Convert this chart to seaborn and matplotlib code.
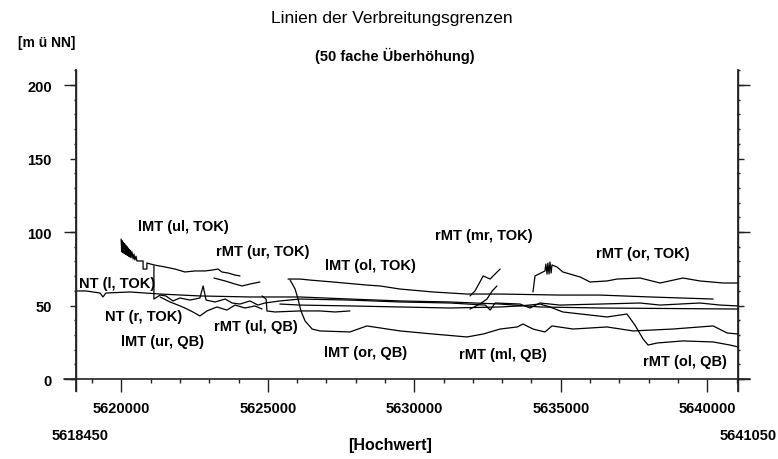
import matplotlib
matplotlib.use("Agg")
import matplotlib.pyplot as plt
from matplotlib.ticker import MultipleLocator
import seaborn as sns
import pandas as pd

# Hochwert [m] und Hoehe [m ue NN] der Grenzlinien
lmt_ul_tok_x = [5619990, 5620010, 5620030, 5620050, 5620070, 5620090, 5620110, 5620130, 5620150,
                5620170, 5620190, 5620210, 5620230, 5620250, 5620270, 5620290, 5620310, 5620330,
                5620360, 5620400, 5620430, 5620460, 5620500, 5620530, 5620570,
                5620740, 5620740, 5620870, 5620870, 5621110, 5621490, 5621830, 5622170, 5622510,
                5622850, 5623090, 5623300, 5623430, 5623640, 5623880, 5624050]
lmt_ul_tok_y = [95.2, 86.5, 94.0, 86.0, 93.0, 85.5, 92.0, 85.0, 91.0,
                84.5, 90.0, 84.0, 89.0, 83.5, 88.0, 83.0, 87.5, 82.5,
                86.5, 81.6, 85.0, 81.0, 83.5, 80.3, 80.3,
                80.3, 74.8, 74.8, 78.9, 77.6, 76.2, 74.8, 72.8, 73.5,
                73.5, 74.1, 74.8, 72.8, 72.1, 70.7, 70.1]

rmt_ur_tok_x = [5623160, 5623540, 5623880, 5624120, 5624390, 5624730]
rmt_ur_tok_y = [68.7, 66.7, 64.6, 63.3, 64.6, 66.0]

lmt_ol_tok_x = [5625690, 5626100, 5626440, 5627220, 5628380, 5628830, 5629510, 5630640, 5631800,
                5632930, 5634970, 5636340, 5638050, 5640200]
lmt_ol_tok_y = [68.0, 68.0, 67.3, 66.0, 63.9, 63.3, 61.2, 59.2, 57.8,
                57.8, 57.1, 57.1, 55.8, 54.4]

rmt_mr_tok_x = [5631900, 5632070, 5632240, 5632350, 5632590, 5632690, 5632930]
rmt_mr_tok_y = [56.5, 59.9, 66.0, 70.1, 68.0, 70.1, 74.8]

rmt_mr_b_x = [5631900, 5632240, 5632480, 5632660, 5632820]
rmt_mr_b_y = [47.6, 51.0, 54.4, 59.9, 63.3]

rmt_or_tok_x = [5634050, 5634120, 5634460, 5634490, 5634530, 5634560, 5634600, 5634630, 5634670,
                5634700, 5634870, 5635070, 5635660, 5636000, 5636580, 5636920, 5637710, 5638390,
                5639170, 5639750, 5640540, 5641050]
rmt_or_tok_y = [59.2, 70.1, 73.5, 78.2, 71.4, 78.9, 71.4, 79.6, 72.1,
                77.6, 76.2, 72.8, 69.4, 66.0, 66.7, 68.0, 68.7, 65.3,
                68.7, 66.7, 65.3, 65.3]

nt_l_tok_x = [5618450, 5618790, 5619270, 5619370, 5619470, 5620290, 5621320, 5622680, 5624390,
              5626100, 5627800, 5629510, 5631220, 5632930, 5634290, 5636340, 5641050]
nt_l_tok_y = [59.9, 59.9, 58.5, 55.8, 58.5, 59.2, 57.8, 56.5, 55.8,
              55.8, 54.4, 53.1, 52.4, 51.0, 49.0, 48.3, 47.6]

nt_r_tok_x = [5621110, 5621110, 5621320, 5621520, 5621760, 5622000, 5622340, 5622680, 5622790,
              5622890, 5623200, 5623540, 5623780, 5624050, 5624390, 5624660, 5624900, 5625410,
              5626100, 5627800, 5629510, 5631220, 5632420, 5632590, 5632760, 5633610, 5633950,
              5634290, 5634970, 5636340, 5637710, 5638390, 5639070, 5639750, 5640440, 5641050]
nt_r_tok_y = [76.9, 54.4, 57.1, 56.5, 53.1, 55.1, 53.7, 55.1, 63.3,
              53.7, 52.4, 54.4, 51.7, 51.0, 53.1, 50.3, 51.7, 53.1,
              54.4, 53.7, 52.4, 51.7, 50.3, 46.9, 51.7, 51.0, 48.3,
              51.7, 50.3, 51.0, 51.7, 50.3, 51.0, 51.7, 50.3, 49.7]

lmt_ur_qb_x = [5621320, 5621660, 5621930, 5622170, 5622440, 5622680, 5622920, 5623260, 5623600,
               5623880, 5624220, 5624560, 5624800]
lmt_ur_qb_y = [55.8, 52.4, 50.3, 48.3, 45.6, 42.9, 46.3, 49.0, 46.9,
               50.3, 48.3, 49.7, 47.6]

rmt_ul_qb_x = [5624800, 5624940, 5624970, 5625240, 5626100, 5626780, 5627290, 5627800]
rmt_ul_qb_y = [56.5, 54.4, 46.3, 45.6, 46.3, 46.3, 45.6, 46.3]

lmt_or_qb_x = [5625760, 5625930, 5626030, 5626130, 5626270, 5626510, 5626780, 5627800, 5628380,
               5629510, 5630640, 5631800, 5632350, 5632930, 5633510, 5633710, 5634050, 5634460,
               5634700, 5635420, 5636580, 5637470, 5638830, 5640200, 5640680, 5641050]
lmt_or_qb_y = [67.3, 61.2, 54.4, 46.3, 39.5, 34.0, 32.7, 32.0, 36.1,
               32.7, 30.6, 28.6, 30.6, 34.0, 35.4, 37.4, 34.0, 32.0,
               36.1, 34.0, 35.4, 32.7, 34.0, 36.1, 31.3, 30.6]

rmt_ol_qb_x = [5625410, 5626100, 5627800, 5629510, 5631220, 5632930, 5633610, 5634290, 5634630,
               5635070, 5636000, 5636580, 5637020, 5637260, 5637530, 5637810, 5637980, 5638290,
               5639170, 5640200, 5640780, 5641050]
rmt_ol_qb_y = [51.0, 50.3, 49.7, 49.0, 48.3, 49.0, 49.7, 51.0, 49.0,
               45.6, 43.5, 42.2, 43.5, 44.2, 36.7, 27.2, 23.1, 24.5,
               25.9, 25.2, 23.1, 21.8]

# Beschriftungen der Linien
label_names = ["lMT (ul, TOK)", "rMT (ur, TOK)", "lMT (ol, TOK)", "rMT (mr, TOK)", "rMT (or, TOK)",
               "NT (l, TOK)", "NT (r, TOK)", "lMT (ur, QB)", "rMT (ul, QB)", "lMT (or, QB)",
               "rMT (ml, QB)", "rMT (ol, QB)"]
label_x = [5622100, 5624830, 5628490, 5632380, 5637810, 5619850, 5620770, 5621420, 5624600,
           5628320, 5633030, 5639240]
label_y = [104.1, 87.1, 77.6, 98.0, 85.7, 65.3, 42.9, 25.9, 36.1, 18.4, 17.0, 12.2]

y_major = [0, 50, 100, 150, 200]
y_long = [0, 100, 200]
x_major = [5620000, 5625000, 5630000, 5635000, 5640000]
x_min, x_max = 5618450, 5641050

lines = [
    (lmt_ul_tok_x, lmt_ul_tok_y), (rmt_ur_tok_x, rmt_ur_tok_y), (lmt_ol_tok_x, lmt_ol_tok_y),
    (rmt_mr_tok_x, rmt_mr_tok_y), (rmt_mr_b_x, rmt_mr_b_y), (rmt_or_tok_x, rmt_or_tok_y),
    (nt_l_tok_x, nt_l_tok_y), (nt_r_tok_x, nt_r_tok_y), (lmt_ur_qb_x, lmt_ur_qb_y),
    (rmt_ul_qb_x, rmt_ul_qb_y), (lmt_or_qb_x, lmt_or_qb_y), (rmt_ol_qb_x, rmt_ol_qb_y),
]

sns.set_theme(style="white")
plt.rcParams['font.family'] = ['Liberation Sans', 'DejaVu Sans']
plt.rcParams['text.color'] = 'black'
plt.rcParams['xtick.color'] = 'black'
plt.rcParams['ytick.color'] = 'black'

fig = plt.figure(figsize=(7.78, 4.6), dpi=100)
ax = fig.add_axes([76 / 778, 1 - 392 / 460, 662 / 778, 320.7 / 460])

for xs, ys in lines:
    df = pd.DataFrame({"Hochwert": xs, "Hoehe": ys})
    sns.lineplot(data=df, x="Hochwert", y="Hoehe", ax=ax, sort=False, estimator=None,
                 color="black", linewidth=0.9)

for name, lx, ly in zip(label_names, label_x, label_y):
    ax.text(lx, ly, name, ha="center", va="center", fontsize=10.5, fontweight="bold")

ax.set_xlim(x_min, x_max)
ax.set_ylim(-8.16, 210)
ax.set_xlabel("")
ax.set_ylabel("")

for s in ["top", "bottom"]:
    ax.spines[s].set_visible(False)
ax.spines["bottom"].set_position(("data", 0))
for s in ["left", "right"]:
    ax.spines[s].set_color("#222222")
    ax.spines[s].set_linewidth(1)
ax.axhline(0, xmin=-12 / 662, xmax=1 + 12 / 662, clip_on=False, color="#222222", linewidth=1.2)

ax.set_xticks(x_major)
ax.set_xticklabels([str(v) for v in x_major])
ax.xaxis.set_minor_locator(MultipleLocator(1000))
ax.tick_params(axis="x", which="major", direction="out", length=9.4, width=1, color="#222222",
               pad=6.5, labelsize=10.5, bottom=True)
ax.tick_params(axis="x", which="minor", direction="out", length=3, width=1, color="#222222", bottom=True)

ax.set_yticks(y_major)
ax.yaxis.set_minor_locator(MultipleLocator(10))
ax.tick_params(axis="y", which="major", direction="out", length=4.3, width=1, color="#222222",
               pad=13, labelsize=10.5, left=True, right=True)
ax.tick_params(axis="y", which="minor", direction="out", length=1.5, width=1, color="#222222",
               left=True, right=True)
for lab in ax.get_xticklabels() + ax.get_yticklabels():
    lab.set_fontweight("bold")

for side in ["left", "right"]:
    sec = ax.secondary_yaxis(side)
    sec.set_yticks(y_long)
    sec.tick_params(axis="y", direction="out", length=8.6, width=1, color="#222222",
                    labelleft=False, labelright=False)
    sec.spines[side].set_color("#222222")
    sec.yaxis.set_minor_locator(plt.NullLocator())

fig.text(392 / 778, 1 - 19 / 460, "Linien der Verbreitungsgrenzen", ha="center", va="center", fontsize=12.5)
fig.text(395 / 778, 1 - 56 / 460, "(50 fache Überhöhung)", ha="center", va="center", fontsize=10.5,
         fontweight="bold")
fig.text(47 / 778, 1 - 43 / 460, "[m ü NN]", ha="center", va="center", fontsize=10, fontweight="bold")
fig.text(80 / 778, 1 - 436 / 460, str(x_min), ha="center", va="center", fontsize=10.5, fontweight="bold")
fig.text(777 / 778, 1 - 436 / 460, str(x_max), ha="right", va="center", fontsize=10.5, fontweight="bold")
fig.text(390 / 778, 1 - 446 / 460, "[Hochwert]", ha="center", va="center", fontsize=11.5, fontweight="bold")

fig.savefig("out.png", dpi=100)
